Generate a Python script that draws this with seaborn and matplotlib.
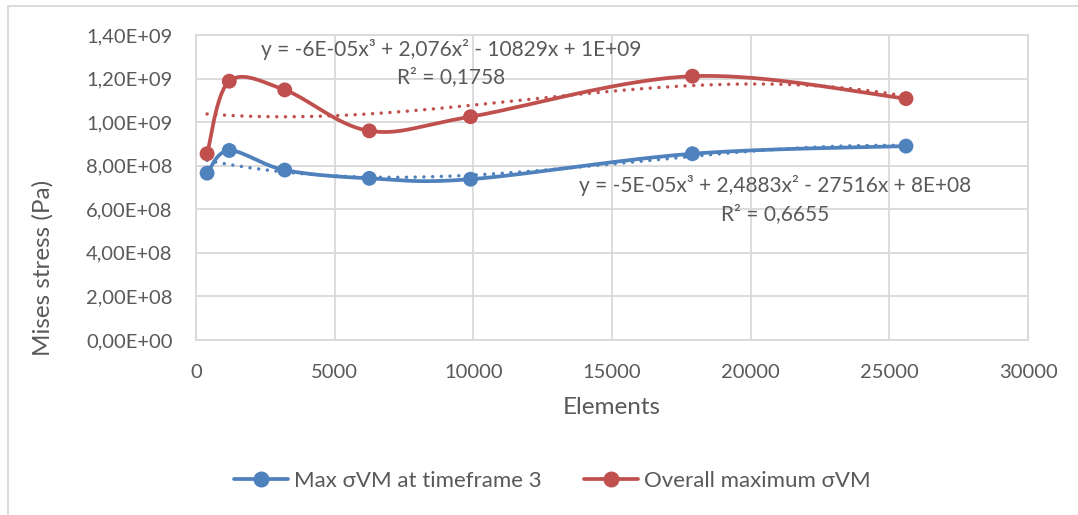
import numpy as np
import pandas as pd
import matplotlib
matplotlib.use("Agg")
import matplotlib.pyplot as plt
import seaborn as sns
from matplotlib.ticker import FuncFormatter
from matplotlib.lines import Line2D
from matplotlib.patches import Rectangle

# Mesh size study: number of elements vs. von Mises stress
elements = [400, 1200, 3200, 6250, 9900, 17900, 25600]
max_vm_tf3 = [7.66e8, 8.70e8, 7.80e8, 7.42e8, 7.38e8, 8.55e8, 8.90e8]
overall_max_vm = [8.55e8, 1.188e9, 1.148e9, 9.60e8, 1.025e9, 1.211e9, 1.108e9]

series_names = ["Max σVM at timeframe 3", "Overall maximum σVM"]
series_colors = ["#4F81BD", "#C0504D"]
trend_labels = [
    "y = -5E-05x³ + 2,4883x² - 27516x + 8E+08\nR² = 0,6655",
    "y = -6E-05x³ + 2,076x² - 10829x + 1E+09\nR² = 0,1758",
]
x_ticks = [0, 5000, 10000, 15000, 20000, 25000, 30000]
y_ticks = [0, 2e8, 4e8, 6e8, 8e8, 1.0e9, 1.2e9, 1.4e9]
x_label = "Elements"
y_label = "Mises stress (Pa)"

sns.set_theme(style="white")
FONT = ["Lato", "DejaVu Sans"]
plt.rcParams["font.family"] = FONT
TEXT_COLOR = "#595959"
GRID_COLOR = "#D9D9D9"
TICK_SIZE = 14.5
LABEL_SIZE = 17.5

W, H = 1078, 515
fig = plt.figure(figsize=(W / 100, H / 100), dpi=100)
fig.patch.set_facecolor("white")
ax = fig.add_axes([196 / W, 1 - 340 / H, (1028 - 196) / W, (340 - 35) / H])
ax.set_xlim(x_ticks[0], x_ticks[-1])
ax.set_ylim(y_ticks[0], y_ticks[-1])

# chart-area frame
fig.patches.append(Rectangle((8 / W, -0.2), 1.2, 1 - 6 / H + 0.2,
                             transform=fig.transFigure, fill=False,
                             edgecolor=GRID_COLOR, linewidth=1.3, zorder=0))

ax.set_xticks(x_ticks)
ax.set_yticks(y_ticks)
ax.yaxis.set_major_formatter(FuncFormatter(lambda v, p: f"{v:.2E}".replace(".", ",")))
ax.xaxis.set_major_formatter(FuncFormatter(lambda v, p: f"{int(v)}"))
ax.grid(True, color=GRID_COLOR, linewidth=1.3)
ax.set_axisbelow(True)
for s in ax.spines.values():
    s.set_color(GRID_COLOR)
    s.set_linewidth(1.3)
ax.tick_params(axis="both", length=0, labelsize=TICK_SIZE, labelcolor=TEXT_COLOR)
ax.tick_params(axis="y", pad=17)
ax.tick_params(axis="x", pad=17)


def smooth_curve(xs, ys, n=40, t=1 / 6):
    """Bezier smoothing through the points, computed in display space."""
    pts = ax.transData.transform(np.column_stack([xs, ys]))
    ext = np.vstack([pts[0], pts, pts[-1]])
    out = []
    for i in range(1, len(ext) - 2):
        p0, p1, p2, p3 = ext[i - 1], ext[i], ext[i + 1], ext[i + 2]
        c1 = p1 + (p2 - p0) * t
        c2 = p2 - (p3 - p1) * t
        u = np.linspace(0, 1, n)[:, None]
        seg = ((1 - u) ** 3) * p1 + 3 * ((1 - u) ** 2) * u * c1 + 3 * (1 - u) * u ** 2 * c2 + u ** 3 * p2
        out.append(seg if i == 1 else seg[1:])
    out = np.vstack(out)
    return ax.transData.inverted().transform(out)


df = pd.DataFrame({
    "elements": elements * 2,
    "stress": max_vm_tf3 + overall_max_vm,
    "series": [series_names[0]] * len(elements) + [series_names[1]] * len(elements),
})

for name, color in zip(series_names, series_colors):
    sub = df[df["series"] == name]
    curve = smooth_curve(sub["elements"].to_numpy(float), sub["stress"].to_numpy(float))
    ax.plot(curve[:, 0], curve[:, 1], color=color, linewidth=2.7,
            solid_capstyle="round", zorder=3)
    # cubic polynomial trendline
    coef = np.polyfit(sub["elements"], sub["stress"], 3)
    xt = np.linspace(min(elements), max(elements), 300)
    trend = pd.DataFrame({"x": xt, "y": np.polyval(coef, xt)})
    sns.lineplot(data=trend, x="x", y="y", ax=ax, color=color, linewidth=2.5,
                 linestyle=(0, (0.01, 2.5)), dash_capstyle="round", zorder=4)

sns.scatterplot(data=df, x="elements", y="stress", hue="series",
                palette=dict(zip(series_names, series_colors)), s=115,
                edgecolor="none", ax=ax, legend=False, zorder=5)
ax.set_xlabel(x_label, fontsize=LABEL_SIZE, color=TEXT_COLOR, labelpad=12)
ax.set_ylabel("")
fig.text(43 / W, 1 - 180 / H, y_label, rotation=90, ha="center", va="top",
         fontsize=LABEL_SIZE, color=TEXT_COLOR)

# trendline equations
fig.text(775 / W, 1 - 199.5 / H, trend_labels[0], ha="center", va="center",
         fontsize=15, color=TEXT_COLOR, linespacing=1.45)
fig.text(451 / W, 1 - 63 / H, trend_labels[1], ha="center", va="center",
         fontsize=15, color=TEXT_COLOR, linespacing=1.45)

handles = [Line2D([], [], color=c, linewidth=2.7, marker="o", markersize=10.5)
           for c in series_colors]
fig.legend(handles, series_names, loc="center", ncol=2, frameon=False,
           bbox_to_anchor=(552 / W, 1 - 481 / H), fontsize=16,
           handlelength=2.45, handletextpad=0.25, columnspacing=1.9,
           labelcolor=TEXT_COLOR)

fig.savefig("out.png", dpi=100, facecolor="white")
